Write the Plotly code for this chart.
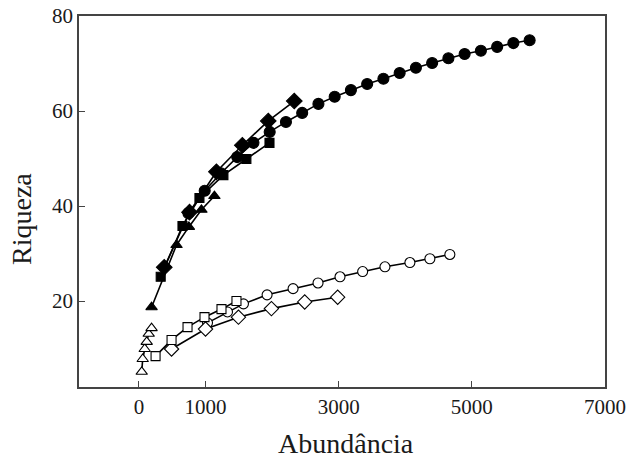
import plotly.graph_objects as go

# Filled circles
circ_f_x = [744, 988, 1232, 1476, 1720, 1964, 2208, 2452, 2696, 2940, 3184, 3428, 3672,
            3916, 4160, 4404, 4648, 4892, 5136, 5380, 5624, 5868]
circ_f_y = [38.5, 43.2, 46.9, 50.3, 53.3, 55.6, 57.7, 59.6, 61.5, 63.0, 64.4, 65.7, 66.8,
            68.0, 69.1, 70.1, 71.1, 72.0, 72.7, 73.5, 74.3, 74.9]
# Filled diamonds
diam_f_x = [380, 760, 1164, 1553, 1943, 2333]
diam_f_y = [27.1, 38.7, 47.2, 52.8, 57.9, 62.1]
# Filled squares
sq_f_x = [327, 654, 909, 1269, 1614, 1961]
sq_f_y = [25.1, 35.8, 41.7, 46.5, 49.9, 53.3]
# Filled triangles
tri_f_x = [190, 565, 750, 939, 1134]
tri_f_y = [18.7, 31.8, 35.6, 39.2, 42.1]
# Open triangles
tri_o_x = [42, 57, 87, 117, 147, 190]
tri_o_y = [5.1, 7.8, 9.9, 11.4, 13.1, 14.3]
# Open squares
sq_o_x = [250, 490, 730, 985, 1240, 1465]
sq_o_y = [8.4, 11.8, 14.5, 16.6, 18.3, 20.0]
# Open circles
circ_o_x = [1030, 1330, 1570, 1925, 2315, 2690, 3020, 3360, 3695, 4070, 4370, 4670]
circ_o_y = [15.4, 17.7, 19.4, 21.3, 22.6, 23.8, 25.1, 26.2, 27.2, 28.1, 28.9, 29.8]
# Open diamonds
diam_o_x = [490, 1000, 1495, 1990, 2490, 2985]
diam_o_y = [9.9, 14.1, 16.6, 18.4, 19.8, 20.8]

x_ticks = [0, 1000, 3000, 5000, 7000]
y_ticks = [20, 40, 60, 80]
x_title = "Abundância"
y_title = "Riqueza"

fig = go.Figure()

def add(x, y, symbol, size, filled):
    fig.add_trace(go.Scatter(
        x=x, y=y, mode="lines+markers",
        line=dict(color="black", width=1.6),
        marker=dict(symbol=symbol, size=size,
                    color="black" if filled else "white",
                    line=dict(color="black", width=1.1)),
        showlegend=False))

add(circ_o_x, circ_o_y, "circle", 10, False)
add(diam_o_x, diam_o_y, "diamond", 11, False)
add(sq_o_x, sq_o_y, "square", 9, False)
add(tri_o_x, tri_o_y, "triangle-up", 10, False)
add(circ_f_x, circ_f_y, "circle", 11, True)
add(sq_f_x, sq_f_y, "square", 9, True)
add(tri_f_x, tri_f_y, "triangle-up", 10, True)
add(diam_f_x, diam_f_y, "diamond", 12, True)

font = "Liberation Serif, Times New Roman, serif"
fig.update_layout(
    width=629, height=465,
    margin=dict(l=79, r=24, t=16, b=78),
    plot_bgcolor="white", paper_bgcolor="white",
    font=dict(family=font, color="#1a1a1a", size=21),
    xaxis=dict(range=[-900, 7000], tickvals=x_ticks, ticks="inside", ticklen=6,
               showline=True, linecolor="#444", linewidth=1.5, mirror=True,
               showgrid=False, zeroline=False, automargin=False,
               ticklabeloverflow="allow",
               tickfont=dict(family=font, size=21)),
    yaxis=dict(range=[1.9, 80], tickvals=y_ticks, ticks="inside", ticklen=6,
               showline=True, linecolor="#444", linewidth=1.5, mirror=True,
               showgrid=False, zeroline=False, automargin=False,
               ticklabeloverflow="allow",
               tickfont=dict(family=font, size=21)),
    annotations=[
        dict(text=x_title, xref="paper", yref="paper", x=0.5, y=0, xshift=4, yshift=-56,
             xanchor="center", yanchor="middle", showarrow=False,
             font=dict(family=font, size=28, color="#1a1a1a")),
        dict(text=y_title, xref="paper", yref="paper", x=0, y=0.453, xshift=-57,
             xanchor="center", yanchor="middle", textangle=-90, showarrow=False,
             font=dict(family=font, size=28, color="#1a1a1a")),
    ],
)

fig.write_html("out.html", config={"displayModeBar": False},
               post_script="document.body.style.margin='0';document.body.style.overflow='hidden';")
